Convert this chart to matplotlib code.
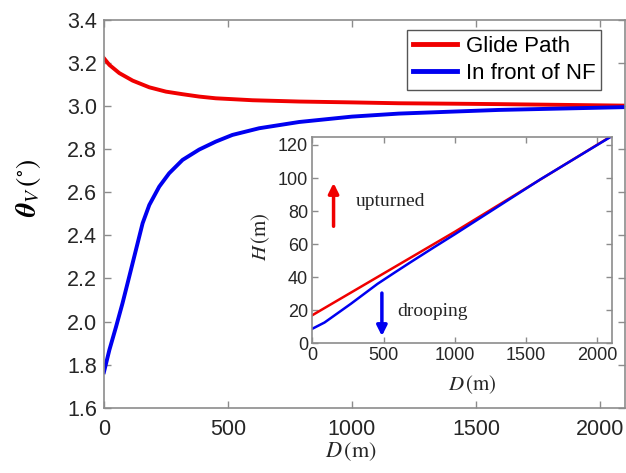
import matplotlib.pyplot as plt
from matplotlib.ticker import MultipleLocator

plt.rcParams["font.family"] = ["Liberation Sans", "DejaVu Sans"]
plt.rcParams["mathtext.fontset"] = "stix"

RED = "#f00000"
BLUE = "#0000f0"
SPINE = "#8c8c8c"
TEXT = "#262626"

# elevation angle along the approach
glide_d = [0, 22, 62, 116, 183, 250, 317, 384, 451, 518, 599, 787, 1000, 1189, 1400,
           1592, 2100]
glide_theta = [3.222, 3.191, 3.153, 3.118, 3.087, 3.067, 3.055, 3.044, 3.036, 3.032,
               3.027, 3.021, 3.017, 3.013, 3.011, 3.009, 3.002]
nf_d = [0, 22, 49, 75, 102, 129, 156, 183, 223, 263, 317, 384, 451, 518, 626, 787,
        1000, 1189, 1400, 1592, 2100]
nf_theta = [1.765, 1.868, 1.976, 2.085, 2.208, 2.332, 2.456, 2.541, 2.626, 2.688, 2.75,
            2.798, 2.835, 2.866, 2.897, 2.926, 2.951, 2.965, 2.974, 2.982, 2.995]

# height above ground (inset)
glide_h_d = [0, 1000, 2100]
glide_h = [17.0, 67.5, 125.5]
nf_h_d = [0, 86, 179, 272, 365, 458, 574, 690, 850, 1000, 1300, 1600, 2100]
nf_h = [8.8, 12.6, 18.3, 24.0, 30.0, 36.0, 42.6, 49.1, 57.9, 66.0, 82.6, 99.2, 125.3]


def style_axes(ax, size):
    for sp in ax.spines.values():
        sp.set_color(SPINE)
        sp.set_linewidth(1.2)
    ax.tick_params(direction="in", top=True, right=True, length=5, width=1,
                   color=SPINE, labelcolor=TEXT, labelsize=size)


fig = plt.figure(figsize=(6.26, 4.73), dpi=100)
ax = fig.add_axes([0.166, 0.138, 0.832, 0.820])
ax.plot(glide_d, glide_theta, color=RED, lw=2.8, label="Glide Path")
ax.plot(nf_d, nf_theta, color=BLUE, lw=2.8, label="In front of NF")
ax.set_xlim(0, 2100)
ax.set_ylim(1.6, 3.4)
ax.xaxis.set_major_locator(MultipleLocator(500))
ax.yaxis.set_major_locator(MultipleLocator(0.2))
ax.yaxis.set_major_formatter(plt.FormatStrFormatter("%.1f"))
style_axes(ax, 15.5)
ax.tick_params(axis="x", pad=8)
ax.tick_params(axis="y", pad=5)

ax.set_xlabel(r"$D\,\mathrm{(m)}$", fontsize=16, color=TEXT)
ax.xaxis.set_label_coords(0.475, -0.083)
ax.set_ylabel(r"$\boldsymbol{\theta}_V\,\mathrm{(^{\circ})}$", fontsize=20, color="black")
ax.yaxis.set_label_coords(-0.117, 0.567)

leg = ax.legend(loc="upper right", bbox_to_anchor=(0.955, 0.974), borderaxespad=0,
                fontsize=16, handlelength=2.0, handletextpad=0.4, borderpad=0.25,
                labelspacing=0.3, fancybox=False, framealpha=1)
leg.get_frame().set_edgecolor("#555555")
leg.get_frame().set_linewidth(1.0)
for line in leg.get_lines():
    line.set_linewidth(3.5)

# inset: height vs distance
ins = fig.add_axes([0.4989, 0.2742, 0.4783, 0.4368])
ins.plot(glide_h_d, glide_h, color=RED, lw=1.8)
ins.plot(nf_h_d, nf_h, color=BLUE, lw=1.8)
ins.set_xlim(0, 2100)
ins.set_ylim(0, 125)
ins.xaxis.set_major_locator(MultipleLocator(500))
ins.yaxis.set_major_locator(MultipleLocator(20))
style_axes(ins, 13)
ins.tick_params(length=4, pad=3)
ins.set_xlabel(r"$D\,\mathrm{(m)}$", fontsize=15, color=TEXT)
ins.xaxis.set_label_coords(0.534, -0.144)
ins.set_ylabel(r"$H\,\mathrm{(m)}$", fontsize=15, color=TEXT)
ins.yaxis.set_label_coords(-0.136, 0.516)

ins.annotate("", xy=(149, 97), xytext=(149, 70.8),
             arrowprops=dict(arrowstyle="-|>,head_length=0.6,head_width=0.3",
                             color=RED, lw=2.5, shrinkA=0, shrinkB=0))
ins.annotate("", xy=(488, 4.4), xytext=(488, 30.4),
             arrowprops=dict(arrowstyle="-|>,head_length=0.6,head_width=0.3",
                             color=BLUE, lw=2.5, shrinkA=0, shrinkB=0))
ins.text(307, 86, "upturned", fontsize=14, family="Liberation Serif",
         color=TEXT, va="center")
ins.text(593, 19.2, "drooping", fontsize=14, family="Liberation Serif",
         color=TEXT, va="center")

fig.savefig("out.png", dpi=100)
